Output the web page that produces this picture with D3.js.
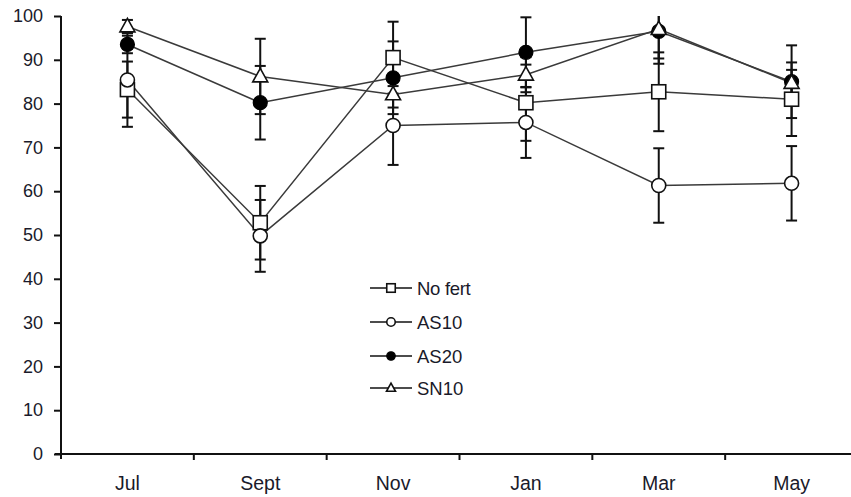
<!DOCTYPE html>
<html>
<head>
<meta charset="utf-8">
<script src="https://cdn.jsdelivr.net/npm/d3@7"></script>
<style>
  html, body { margin: 0; padding: 0; background: #fff; }
  svg { display: block; }
  text { font-family: "Liberation Sans", Arial, sans-serif; fill: #1a1a2a; }
</style>
</head>
<body>
<svg id="chart" width="851" height="497"></svg>
<script>
const months = ["Jul", "Sept", "Nov", "Jan", "Mar", "May"];
const yTicks = [0, 10, 20, 30, 40, 50, 60, 70, 80, 90, 100];

const noFert    = [83.2, 52.8, 90.5, 80.2, 82.7, 81.0];
const noFertErr = [6.4, 8.4, 8.2, 8.7, 9.0, 8.4];
const as10      = [85.4, 49.8, 75.0, 75.7, 61.3, 61.8];
const as10Err   = [10.7, 8.2, 9.0, 8.1, 8.5, 8.5];
const as20      = [93.5, 80.2, 85.9, 91.7, 96.5, 85.0];
const as20Err   = [2.0, 8.4, 8.3, 8.0, 7.4, 8.3];
const sn10      = [97.6, 86.2, 82.1, 86.6, 97.0, 84.7];
const sn10Err   = [1.5, 8.6, 3.0, 4.0, 6.7, 3.0];

const seriesNames = ["No fert", "AS10", "AS20", "SN10"];
const seriesShapes = ["square", "circle", "filled", "triangle"];

const series = [
  { name: seriesNames[0], shape: seriesShapes[0], values: noFert, errs: noFertErr },
  { name: seriesNames[1], shape: seriesShapes[1], values: as10, errs: as10Err },
  { name: seriesNames[2], shape: seriesShapes[2], values: as20, errs: as20Err },
  { name: seriesNames[3], shape: seriesShapes[3], values: sn10, errs: sn10Err }
];

const svg = d3.select("#chart");
const x = d3.scaleBand().domain(months).range([61, 858]).padding(0);
const y = d3.scaleLinear().domain([0, 100]).range([454, 16]);
const cx = m => x(m) + x.bandwidth() / 2;

// Y axis
const yAxis = svg.append("g").attr("transform", "translate(61,0)")
  .call(d3.axisLeft(y).tickValues(yTicks).tickSize(7).tickPadding(11).tickFormat(d3.format("d")));
yAxis.select(".domain").remove();
yAxis.selectAll(".tick line").attr("stroke", "#111").attr("stroke-width", 2);
yAxis.selectAll(".tick text").attr("font-size", 18).style("font-family", "'Liberation Sans', Arial, sans-serif").attr("fill", "#1a1a2a");
svg.append("line").attr("x1", 61).attr("x2", 61).attr("y1", y(100)).attr("y2", 459)
  .attr("stroke", "#111").attr("stroke-width", 2);

// X axis
svg.append("line").attr("x1", 55).attr("x2", 851).attr("y1", y(0)).attr("y2", y(0))
  .attr("stroke", "#111").attr("stroke-width", 2);
svg.selectAll(".xtick").data(months.slice(1)).enter().append("line")
  .attr("x1", d => x(d)).attr("x2", d => x(d)).attr("y1", y(0)).attr("y2", y(0) + 6)
  .attr("stroke", "#111").attr("stroke-width", 2);
svg.selectAll(".xlab").data(months).enter().append("text")
  .attr("x", d => cx(d)).attr("y", 490).attr("text-anchor", "middle")
  .attr("font-size", 19.5).text(d => d);

// Error bars (clipped at top of axis)
const eb = svg.append("g");
series.forEach(s => {
  s.values.forEach((v, i) => {
    const xc = cx(months[i]);
    const hi = v + s.errs[i], lo = v - s.errs[i];
    const hiC = Math.min(hi, 100);
    eb.append("line").attr("x1", xc).attr("x2", xc).attr("y1", y(hiC)).attr("y2", y(lo))
      .attr("stroke", "#111").attr("stroke-width", 2);
    if (hi <= 100) eb.append("line").attr("x1", xc - 5.5).attr("x2", xc + 5.5).attr("y1", y(hi)).attr("y2", y(hi))
      .attr("stroke", "#111").attr("stroke-width", 2);
    eb.append("line").attr("x1", xc - 5.5).attr("x2", xc + 5.5).attr("y1", y(lo)).attr("y2", y(lo))
      .attr("stroke", "#111").attr("stroke-width", 2);
  });
});

// Lines
const line = d3.line().x((d, i) => cx(months[i])).y(d => y(d));
series.forEach(s => {
  svg.append("path").attr("d", line(s.values)).attr("fill", "none")
    .attr("stroke", "#3a3a3a").attr("stroke-width", 1.5);
});

function drawMarker(g, shape, px, py, size) {
  if (shape === "square") {
    g.append("rect").attr("x", px - size / 2).attr("y", py - size / 2).attr("width", size).attr("height", size)
      .attr("fill", "#fff").attr("stroke", "#111").attr("stroke-width", 1.6);
  } else if (shape === "circle") {
    g.append("circle").attr("cx", px).attr("cy", py).attr("r", size / 2)
      .attr("fill", "#fff").attr("stroke", "#111").attr("stroke-width", 1.6);
  } else if (shape === "filled") {
    g.append("circle").attr("cx", px).attr("cy", py).attr("r", size / 2)
      .attr("fill", "#000").attr("stroke", "#000").attr("stroke-width", 1.2);
  } else {
    const h = size * 0.9, w = size;
    g.append("path").attr("d", `M${px},${py - h * 0.6}L${px + w / 2},${py + h * 0.4}L${px - w / 2},${py + h * 0.4}Z`)
      .attr("fill", "#fff").attr("stroke", "#111").attr("stroke-width", 1.6);
  }
}

// Markers
series.forEach(s => {
  const g = svg.append("g");
  s.values.forEach((v, i) => drawMarker(g, s.shape, cx(months[i]), y(v), s.shape === "triangle" ? 15 : 14));
});

// Legend
const legY = [288, 322, 356, 388];
series.forEach((s, i) => {
  const g = svg.append("g");
  g.append("line").attr("x1", 370).attr("x2", 412).attr("y1", legY[i]).attr("y2", legY[i])
    .attr("stroke", "#111").attr("stroke-width", 1.5);
  drawMarker(g, s.shape, 391, legY[i], s.shape === "triangle" ? 9 : 8.5);
  g.append("text").attr("x", 417).attr("y", legY[i] + 7).attr("font-size", 18.5)
    .attr("letter-spacing", s.name === "No fert" ? "-0.3" : "0").text(s.name);
});
</script>
</body>
</html>
